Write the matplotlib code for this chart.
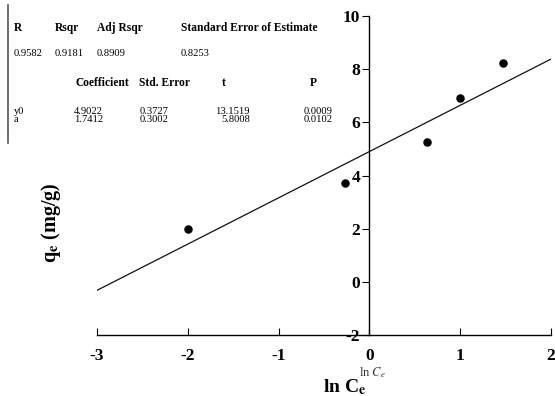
import matplotlib.pyplot as plt

plt.rcParams['font.family'] = ['Liberation Serif', 'DejaVu Serif']
plt.rcParams['mathtext.fontset'] = 'stix'
plt.rcParams['axes.unicode_minus'] = False

# data
ln_ce = [-2.0, -0.27, 0.63, 1.0, 1.47]
qe = [1.97, 3.70, 5.26, 6.90, 8.24]

# regression line (y0 + a*x) at the ends of the x range
fit_x = [-3.0, 2.0]
fit_y = [-0.32, 8.38]

x_ticks = [-3, -2, -1, 0, 1, 2]
y_ticks = [-2, 0, 2, 4, 6, 8, 10]

# regression summary table
hdr1 = ['R', 'Rsqr', 'Adj Rsqr', 'Standard Error of Estimate']
row1 = ['0.9582', '0.9181', '0.8909', '0.8253']
hdr2 = ['Coefficient', 'Std. Error', 't', 'P']
coef_names = ['y0', 'a']
coef_vals = [['4.9022', '0.3727', '13.1519', '0.0009'],
             ['1.7412', '0.3002', '5.8008', '0.0102']]

fig = plt.figure(figsize=(5.55, 3.96), dpi=100)
ax = fig.add_axes([97/555, 61/396, 454/555, 319/396])

ax.plot(fit_x, fit_y, color='#111111', lw=0.9)
ax.scatter(ln_ce, qe, s=26, color='black', zorder=3)

ax.set_xlim(-3, 2)
ax.set_ylim(-2, 10)
ax.spines['top'].set_visible(False)
ax.spines['right'].set_visible(False)
ax.spines['left'].set_position(('data', 0))
ax.spines['bottom'].set_position(('data', -2))
for s in ax.spines.values():
	s.set_linewidth(1.0)

ax.set_xticks(x_ticks)
ax.set_yticks(y_ticks)
ax.tick_params(axis='x', direction='in', length=5, pad=9, labelsize=12.5)
ax.tick_params(axis='y', direction='out', length=5, pad=1.5, labelsize=12.5)
for lab in ax.get_xticklabels() + ax.get_yticklabels():
	lab.set_fontweight('bold')

# axis titles
fig.text(51/555, 1 - 223/396, r'q$_{\mathbf{e}}$ (mg/g)', rotation=90,
	ha='center', va='center', fontsize=14.5, fontweight='bold')
fig.text(345/555, 1 - 387/396, r'ln C$_{\mathbf{e}}$', ha='center', va='center',
	fontsize=14, fontweight='bold')
fig.text(372/555, 1 - 373/396, r'ln $C_e$', ha='center', va='center',
	fontsize=9, color='#333333')

# table in the upper left
def tx(x, y, s, bold=False, ha='left'):
	fig.text(x/555, 1 - y/396, s, fontsize=8.3 if bold else 7.6, ha=ha,
		va='center', fontweight='bold' if bold else 'normal')

for x, s in zip([14, 55, 97, 181], hdr1):
	tx(x, 28, s, bold=True)
for x, s in zip([14, 55, 97, 181], row1):
	tx(x, 54, s)
for x, s in zip([76, 139, 222, 310], hdr2):
	tx(x, 83, s, bold=True)
for r, (name, vals) in enumerate(zip(coef_names, coef_vals)):
	y = 112 + r*8
	tx(14, y, name)
	tx(103, y, vals[0], ha='right')
	tx(140, y, vals[1])
	tx(250, y, vals[2], ha='right')
	tx(304, y, vals[3])

fig.add_artist(plt.Line2D([8/555, 8/555], [1 - 5/396, 1 - 143/396],
	color='#555555', lw=1.2))

fig.savefig('out.png', dpi=100)
